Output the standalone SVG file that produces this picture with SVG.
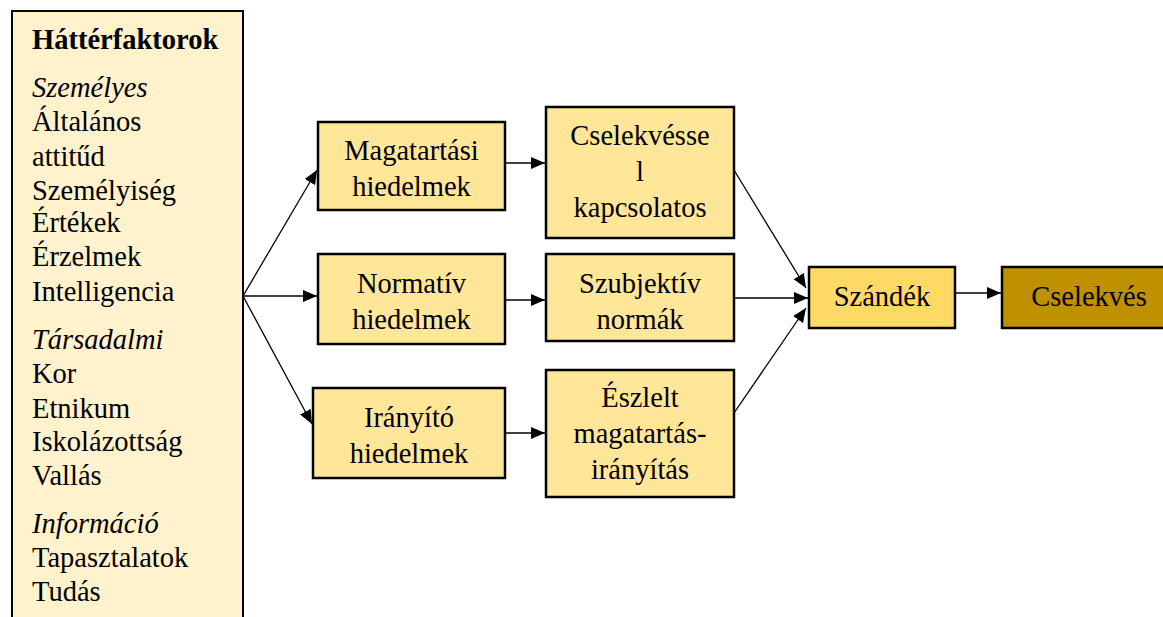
<svg xmlns="http://www.w3.org/2000/svg" width="1163" height="617" viewBox="0 0 1163 617">
  <style>
    text { font-family: "Times New Roman", Times, "Liberation Serif", "Nimbus Roman", "DejaVu Serif", serif; font-size: 28.5px; fill: #000; }
    .b { font-weight: bold; }
    .i { font-style: italic; }
    .c { text-anchor: middle; }
    .box { stroke: #000; stroke-width: 2.5; }
    .belief { fill: #FFE699; }
    .edge { stroke: #000; stroke-width: 1.3; fill: none; marker-end: url(#arrow); }
  </style>
  <defs>
    <marker id="arrow" markerUnits="userSpaceOnUse" markerWidth="15" markerHeight="13" refX="14" refY="6" orient="auto">
      <path d="M0,0 L14,6 L0,12 z" fill="#000"/>
    </marker>
  </defs>
  <rect width="1163" height="617" fill="#fff"/>

  <!-- background factors -->
  <g id="background">
    <rect x="12" y="11" width="231" height="630" fill="#FFF2CC" stroke="#000" stroke-width="2"/>
    <text class="b" x="32" y="49">Háttérfaktorok</text>
    <text class="i" x="32" y="97">Személyes</text>
    <text x="32" y="131">Általános</text>
    <text x="32" y="166">attitűd</text>
    <text x="32" y="200">Személyiség</text>
    <text x="32" y="232">Értékek</text>
    <text x="32" y="266">Érzelmek</text>
    <text x="32" y="301">Intelligencia</text>
    <text class="i" x="32" y="349">Társadalmi</text>
    <text x="32" y="383">Kor</text>
    <text x="32" y="418">Etnikum</text>
    <text x="32" y="451">Iskolázottság</text>
    <text x="32" y="485">Vallás</text>
    <text class="i" x="32" y="533">Információ</text>
    <text x="32" y="567">Tapasztalatok</text>
    <text x="32" y="601">Tudás</text>
  </g>

  <!-- beliefs -->
  <g id="behavioral-beliefs">
    <rect class="box belief" x="318" y="122" width="187" height="88"/>
    <text class="c" x="411.5" y="160">Magatartási</text>
    <text class="c" x="411.5" y="196">hiedelmek</text>
  </g>
  <g id="normative-beliefs">
    <rect class="box belief" x="318" y="254" width="187" height="90"/>
    <text class="c" x="411.5" y="293">Normatív</text>
    <text class="c" x="411.5" y="329">hiedelmek</text>
  </g>
  <g id="control-beliefs">
    <rect class="box belief" x="313" y="388" width="192" height="90"/>
    <text class="c" x="409" y="427">Irányító</text>
    <text class="c" x="409" y="463">hiedelmek</text>
  </g>

  <!-- determinants -->
  <g id="attitude">
    <rect class="box belief" x="546" y="107" width="188" height="131"/>
    <text class="c" x="640" y="145">Cselekvésse</text>
    <text class="c" x="640" y="181">l</text>
    <text class="c" x="640" y="217">kapcsolatos</text>
  </g>
  <g id="subjective-norms">
    <rect class="box belief" x="546" y="254" width="188" height="87"/>
    <text class="c" x="640" y="293">Szubjektív</text>
    <text class="c" x="640" y="329">normák</text>
  </g>
  <g id="perceived-control">
    <rect class="box belief" x="546" y="370" width="188" height="127"/>
    <text class="c" x="640" y="407">Észlelt</text>
    <text class="c" x="640" y="443">magatartás-</text>
    <text class="c" x="640" y="479">irányítás</text>
  </g>

  <g id="intention">
    <rect class="box" x="809" y="267" width="146" height="61" fill="#FFD966"/>
    <text class="c" x="882" y="306">Szándék</text>
  </g>
  <g id="behavior">
    <rect class="box" x="1002" y="267" width="175" height="61" fill="#BF9000"/>
    <text class="c" x="1089" y="306">Cselekvés</text>
  </g>

  <!-- connectors -->
  <g id="connectors">
    <line class="edge" x1="243" y1="296" x2="317" y2="170"/>
    <line class="edge" x1="243" y1="296" x2="317" y2="296"/>
    <line class="edge" x1="243" y1="296" x2="312" y2="424"/>
    <line class="edge" x1="505" y1="163" x2="545" y2="163"/>
    <line class="edge" x1="505" y1="300" x2="545" y2="300"/>
    <line class="edge" x1="505" y1="433" x2="545" y2="433"/>
    <line class="edge" x1="734" y1="170" x2="806" y2="288"/>
    <line class="edge" x1="734" y1="298" x2="808" y2="298"/>
    <line class="edge" x1="734" y1="413" x2="806" y2="308"/>
    <line class="edge" x1="955" y1="293" x2="1001" y2="293"/>
  </g>
</svg>
